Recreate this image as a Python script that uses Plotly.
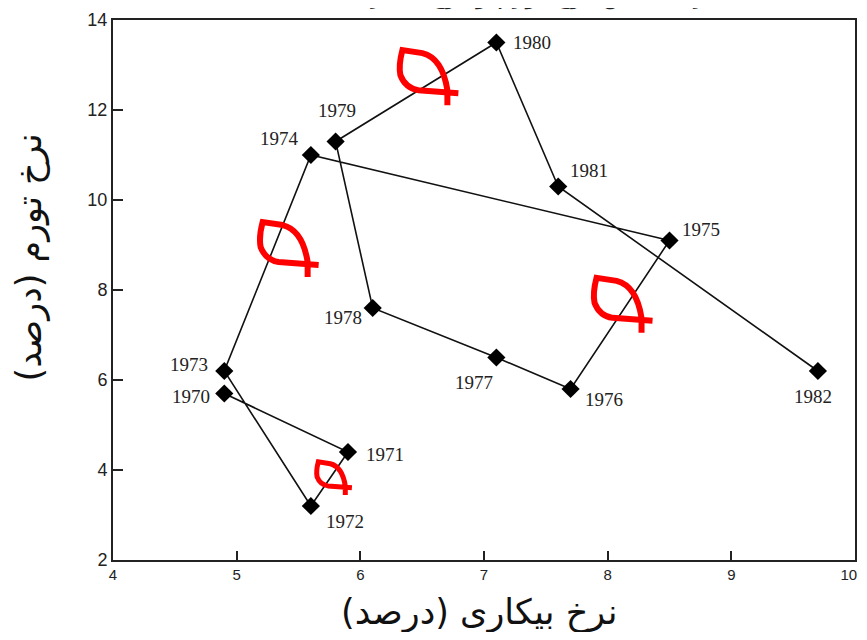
import plotly.graph_objects as go

# Phillips-curve style data
years = ["1970", "1971", "1972", "1973", "1974", "1975", "1976",
         "1977", "1978", "1979", "1980", "1981", "1982"]
unemployment = [4.9, 5.9, 5.6, 4.9, 5.6, 8.5, 7.7, 7.1, 6.1, 5.8, 7.1, 7.6, 9.7]
inflation = [5.7, 4.4, 3.2, 6.2, 11.0, 9.1, 5.8, 6.5, 7.6, 11.3, 13.5, 10.3, 6.2]

x_ticks = [4, 5, 6, 7, 8, 9, 10]
x_tick_labels = ["4", "5", "6", "7", "8", "9", "10"]

# hand-drawn red loop marks (anchor = top-left of each mark)
loop_x = [6.34, 5.21, 7.91, 5.66]
loop_y = [13.33, 9.51, 8.27, 4.18]
loop_scale = [1.0, 1.0, 1.0, 0.6]

x_title = "نرخ بیکاری (درصد)"
y_title = "نرخ تورم (درصد)"
chart_title = "رابطه بین نرخ تورم و نرخ بیکاری"

# label offsets in pixels (dx, dy up)
label_shift = {
    "1970": (-33, -3), "1971": (37, -2), "1972": (34, -15), "1973": (-35, 7),
    "1974": (-31, 17), "1975": (31, 11), "1976": (33, -10), "1977": (-22, -25),
    "1978": (-30, -9), "1979": (1, 31), "1980": (36, 0), "1981": (31, 16),
    "1982": (-5, -25),
}

fig = go.Figure()
fig.add_trace(go.Scatter(
    x=unemployment, y=inflation,
    mode="lines+markers",
    line=dict(color="#111", width=1.6),
    marker=dict(symbol="diamond", size=14, color="black"),
    hoverinfo="skip",
))

for yr, xv, yv in zip(years, unemployment, inflation):
    dx, dy = label_shift[yr]
    fig.add_annotation(x=xv, y=yv, text=yr, showarrow=False,
                       xshift=dx, yshift=dy,
                       font=dict(family="Liberation Serif", size=19, color="#222"))

# red loop glyph, path in pixels relative to anchor (y up)
base = [("M", 45, -55), ("L", 45, -40), ("Q", 40, -8, 20, -3), ("L", 0, 0),
        ("Q", -4, -15, -2, -25), ("Q", 3, -38, 16, -40), ("L", 56, -43)]

def loop_path(s):
    parts = []
    for seg in base:
        cmd, nums = seg[0], seg[1:]
        parts.append(cmd + " " + " ".join(f"{n * s:.1f}" for n in nums))
    return " ".join(parts)

for lx, ly, s in zip(loop_x, loop_y, loop_scale):
    fig.add_shape(type="path", xref="x", yref="y",
                  xsizemode="pixel", ysizemode="pixel",
                  xanchor=lx, yanchor=ly, path=loop_path(s),
                  line=dict(color="red", width=6 if s > 0.8 else 5))

# last x label gets a little padding so it isn't clipped at the window edge
tick_text = x_tick_labels[:-1] + [x_tick_labels[-1] + "&nbsp;&nbsp;&nbsp;"]

# page body has an 8px margin; keep the figure inside the window
fig.update_layout(
    width=859, height=624,
    margin=dict(l=105, r=12, t=12, b=72),
    plot_bgcolor="white", paper_bgcolor="white",
    showlegend=False,
    xaxis=dict(range=[4, 10], tickvals=x_ticks, ticktext=tick_text,
               showgrid=False, zeroline=False,
               showline=True, linecolor="#222", linewidth=2, mirror=True,
               ticks="inside", ticklen=9, tickcolor="#222", tickwidth=1.5,
               automargin=False, ticklabeloverflow="allow",
               tickfont=dict(family="Liberation Sans", size=15, color="#222")),
    yaxis=dict(range=[2, 14], dtick=2, showgrid=False, zeroline=False,
               showline=True, linecolor="#222", linewidth=2, mirror=True,
               ticks="inside", ticklen=10, tickcolor="#222", tickwidth=1.5,
               automargin=False,
               tickfont=dict(family="Liberation Sans", size=18, color="#222")),
)
# title sits mostly above the top edge, as in the reference
fig.add_annotation(x=0.56, y=1, xref="paper", yref="paper", yanchor="bottom",
                   yshift=8, text=chart_title, showarrow=False,
                   font=dict(family="DejaVu Sans", size=26, color="#222"))
# axis titles
fig.add_annotation(x=0.493, y=-0.055, xref="paper", yref="paper", yanchor="top",
                   text=x_title, showarrow=False,
                   font=dict(family="DejaVu Sans", size=35, color="#111"))
fig.add_annotation(x=-0.112, y=0.56, xref="paper", yref="paper", xanchor="center",
                   text=y_title, showarrow=False, textangle=-90,
                   font=dict(family="DejaVu Sans", size=35, color="#111"))

fig.write_html("out.html")
